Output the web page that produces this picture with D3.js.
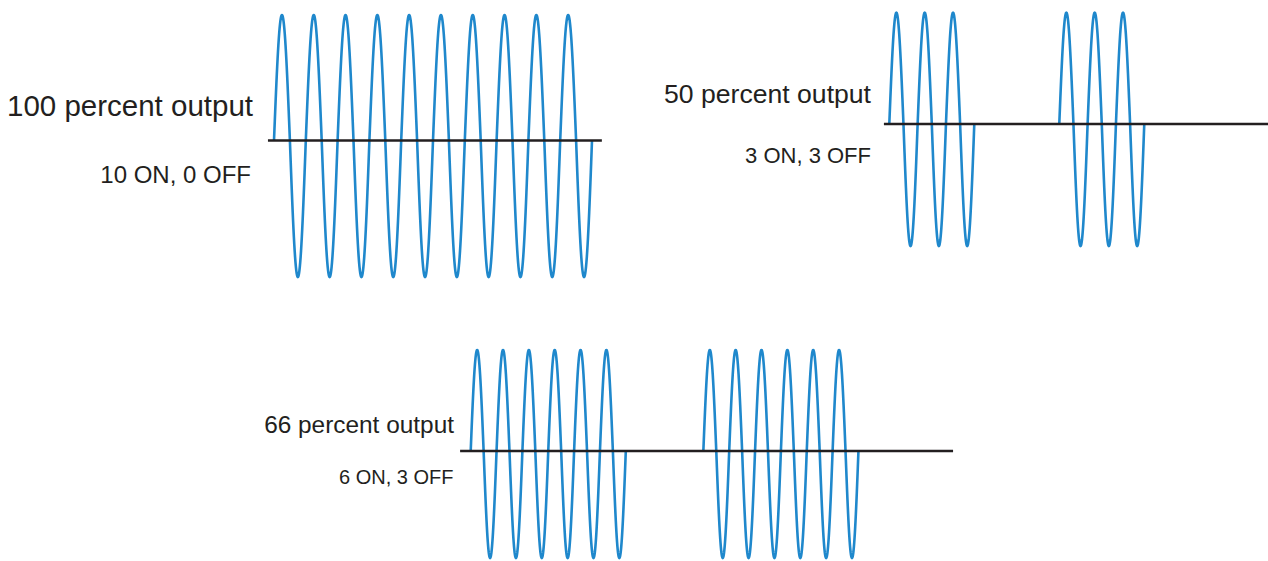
<!DOCTYPE html>
<html>
<head>
<meta charset="utf-8">
<script src="https://cdn.jsdelivr.net/npm/d3@7"></script>
<style>
  body { margin: 0; background: #fff; }
  svg { display: block; }
  text { font-family: "Liberation Sans", Arial, Helvetica, sans-serif; fill: #231f20; }
</style>
</head>
<body>
<svg id="viz" width="1268" height="561"></svg>
<script>
// cycle patterns: 1 = cycle fired (ON), 0 = cycle skipped (OFF)
var titles = ["100 percent output", "50 percent output", "66 percent output"];
var subtitles = ["10 ON, 0 OFF", "3 ON, 3 OFF", "6 ON, 3 OFF"];
var pattern100 = [1, 1, 1, 1, 1, 1, 1, 1, 1, 1];
var pattern50 = [1, 1, 1, 0, 0, 0, 1, 1, 1];
var pattern66 = [1, 1, 1, 1, 1, 1, 0, 0, 0, 1, 1, 1, 1, 1, 1];
var patterns = [pattern100, pattern50, pattern66];
// baseline extent in cycles (before first, after last)
var baseStart = [-0.19, -0.19, -0.41];
var baseEnd = [10.31, 13.37, 18.66];

// layout of each panel (pixels)
var layout = [
  { x0: 274, period: 31.8, base: 140.5, peak: 15, trough: 277,
    titleX: 253, titleY: 116, titleSize: 29.5, subX: 251, subY: 182.5, subSize: 24 },
  { x0: 889.3, period: 28.33, base: 124, peak: 12.7, trough: 246,
    titleX: 871, titleY: 102.5, titleSize: 26.6, subX: 871, subY: 163, subSize: 22 },
  { x0: 470.7, period: 25.85, base: 451, peak: 350, trough: 558,
    titleX: 454, titleY: 432.5, titleSize: 24.4, subX: 453.5, subY: 484, subSize: 20 }
];

var svg = d3.select('#viz');
var blue = '#1f88cc';

patterns.forEach(function(p, i) {
  var L = layout[i];
  var x = d3.scaleLinear()
      .domain([0, p.length])
      .range([L.x0, L.x0 + p.length * L.period]);
  var y = d3.scaleLinear()
      .domain([-1, 0, 1])
      .range([L.trough, L.base, L.peak]);

  var g = svg.append('g');

  // group consecutive ON cycles into bursts
  var bursts = [];
  p.forEach(function(on, k) {
    if (!on) return;
    var last = bursts[bursts.length - 1];
    if (last && last[1] === k) last[1] = k + 1;
    else bursts.push([k, k + 1]);
  });

  var line = d3.line()
      .x(function(d) { return x(d); })
      .y(function(d) { return y(Math.sin(2 * Math.PI * d)); });

  bursts.forEach(function(b) {
    var pts = d3.range(b[0], b[1], 1 / 80).concat([b[1]]);
    g.append('path')
      .attr('d', line(pts))
      .attr('fill', 'none')
      .attr('stroke', blue)
      .attr('stroke-width', 2.6)
      .attr('stroke-linejoin', 'round');
  });

  g.append('line')
    .attr('x1', x(baseStart[i]))
    .attr('x2', x(baseEnd[i]))
    .attr('y1', y(0))
    .attr('y2', y(0))
    .attr('stroke', '#231f20')
    .attr('stroke-width', 2.4);

  g.append('text')
    .attr('x', L.titleX)
    .attr('y', L.titleY)
    .attr('text-anchor', 'end')
    .style('font-size', L.titleSize + 'px')
    .text(titles[i]);

  g.append('text')
    .attr('x', L.subX)
    .attr('y', L.subY)
    .attr('text-anchor', 'end')
    .style('font-size', L.subSize + 'px')
    .text(subtitles[i]);
});
</script>
</body>
</html>
